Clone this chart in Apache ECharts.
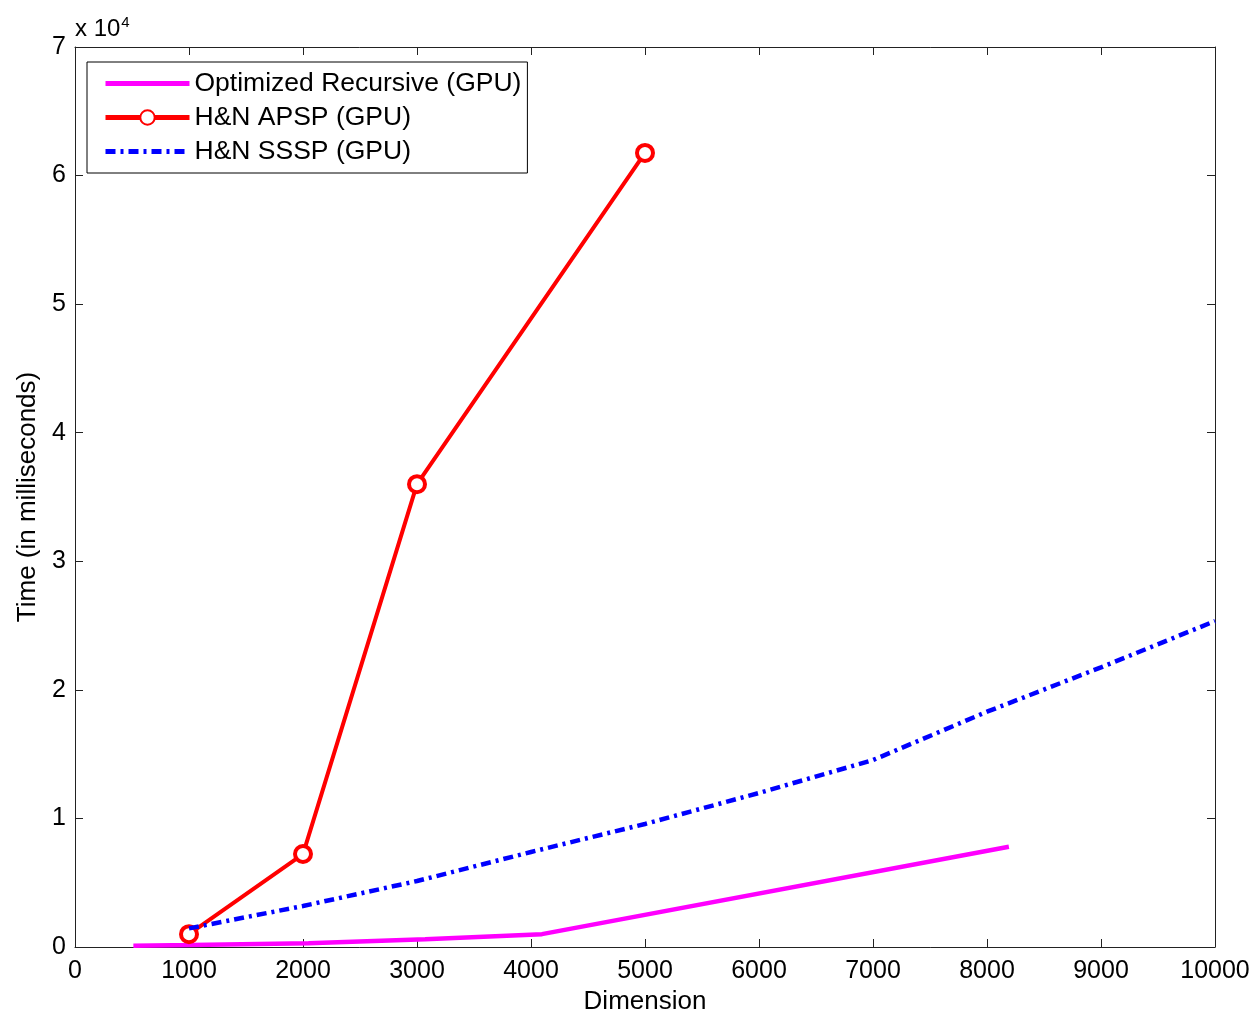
<!DOCTYPE html>
<html><head><meta charset="utf-8">
<script src="https://cdn.jsdelivr.net/npm/echarts@6/dist/echarts.min.js"></script>
<style>html,body{margin:0;padding:0;background:#fff}#c{width:1253px;height:1015px}</style>
</head><body><div id="c"></div>
<script>
const recursiveX = [512, 1024, 2048, 3072, 4096, 8192];
const recursiveY = [100, 150, 300, 600, 1000, 7800];
const apspX = [1000, 2000, 3000, 5000];
const apspY = [1000, 7230, 36000, 61760];
const ssspX = [1000, 2000, 3000, 4000, 5000, 6000, 7000, 8000, 9000, 10000];
const ssspY = [1450, 3190, 5130, 7390, 9570, 11980, 14540, 18300, 21750, 25350];
const xTicks = [0,1000,2000,3000,4000,5000,6000,7000,8000,9000,10000];
const yTickLabels = ['0','1','2','3','4','5','6','7'];
const seriesNames = ['Optimized Recursive (GPU)', 'H&N APSP (GPU)', 'H&N SSSP (GPU)'];

const zip = (a,b)=>a.map((v,i)=>[v,b[i]]);
const font = 'Liberation Sans, Arial, sans-serif';
const chart = echarts.init(document.getElementById('c'));
const axisColor = '#222';
const baseAxis = () => ({
  axisLine:{show:true, onZero:false, lineStyle:{color:axisColor, width:1}},
  axisTick:{show:true, inside:true, length:8, lineStyle:{color:axisColor}},
  splitLine:{show:false},
});
chart.setOption({
  animation:false,
  backgroundColor:'#fff',
  grid:{left:75, right:38, top:47, bottom:68, containLabel:false, outerBoundsMode:'none'},
  legend:{
    orient:'vertical', left:87, top:62,
    data:[
      {name:seriesNames[0], itemStyle:{opacity:0}, lineStyle:{width:5}},
      {name:seriesNames[1], lineStyle:{width:5}},
      {name:seriesNames[2], itemStyle:{opacity:0}, lineStyle:{width:5}}
    ],
    backgroundColor:'#fff', borderColor:'#000', borderWidth:1,
    padding:[8,6,8,16], itemGap:7, itemWidth:84, itemHeight:18,
    textStyle:{fontFamily:font, fontSize:26.5, color:'#000', lineHeight:27}
  },
  graphic:[{type:'text', left:75, top:15, style:{text:'x 10{s|4}', rich:{s:{fontSize:15, verticalAlign:'top', padding:[0,0,14,1]}}, fontFamily:font, fontSize:24, fill:'#000'}}],
  xAxis:[
    Object.assign(baseAxis(), {type:'value', min:0, max:10000, interval:1000, position:'bottom',
      name:'Dimension', nameLocation:'middle', nameGap:42,
      nameTextStyle:{fontFamily:font, fontSize:26, color:'#000'},
      axisLabel:{fontFamily:font, fontSize:25, color:'#000', margin:12, formatter:v=>String(v)}}),
    Object.assign(baseAxis(), {type:'value', min:0, max:10000, interval:1000, position:'top', axisLabel:{show:false}})
  ],
  yAxis:[
    Object.assign(baseAxis(), {type:'value', min:0, max:70000, interval:10000, position:'left',
      name:'Time (in milliseconds)', nameLocation:'middle', nameGap:34,
      nameTextStyle:{fontFamily:font, fontSize:26, color:'#000'},
      axisLabel:{fontFamily:font, fontSize:25, color:'#000', margin:9, formatter:v=>yTickLabels[Math.round(v/10000)]}}),
    Object.assign(baseAxis(), {type:'value', min:0, max:70000, interval:10000, position:'right', axisLabel:{show:false}})
  ],
  series:[
    {name:seriesNames[0], type:'line', data:zip(recursiveX, recursiveY), showSymbol:false, symbol:'none',
      lineStyle:{color:'#ff00ff', width:4.5}, itemStyle:{color:'#ff00ff'}, z:2},
    {name:seriesNames[1], type:'line', data:zip(apspX, apspY), symbol:'circle', symbolSize:16, showSymbol:true,
      lineStyle:{color:'#ff0000', width:4}, itemStyle:{color:'#fff', borderColor:'#ff0000', borderWidth:4}, z:3},
    {name:seriesNames[2], type:'line', data:zip(ssspX, ssspY), symbol:'none',
      lineStyle:{color:'#0000ff', width:4.5, type:[10,5,3,5]}, itemStyle:{color:'#0000ff'}, z:4}
  ]
});
</script></body></html>
